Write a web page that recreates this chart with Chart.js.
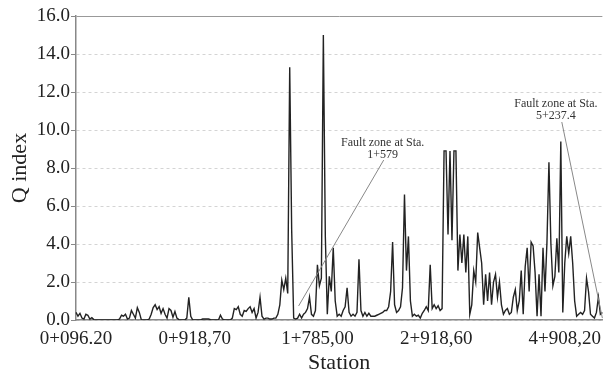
<!DOCTYPE html>
<html>
<head>
<meta charset="utf-8">
<script src="https://cdn.jsdelivr.net/npm/chart.js@4"></script>
<style>
  html, body { margin: 0; padding: 0; background: #fff; }
  #wrap { width: 609px; height: 376px; }
</style>
</head>
<body>
<div id="wrap"><canvas id="qchart"></canvas></div>
<script>
// Q index along the tunnel alignment, one reading per sample
const qIndex = [
  0.4, 0.2, 0.35, 0.1, 0.05, 0.3, 0.25, 0.05, 0.12, 0.02,
  0, 0, 0, 0, 0, 0, 0, 0, 0, 0,
  0, 0, 0.05, 0.25, 0.2, 0.3, 0.05, 0.1, 0.5, 0.3,
  0.1, 0.65, 0.4, 0.02, 0, 0, 0, 0.05, 0.3, 0.65,
  0.8, 0.55, 0.7, 0.35, 0.6, 0.3, 0.1, 0.6, 0.5, 0.15,
  0.45, 0.1, 0.02, 0, 0, 0, 0.1, 1.2, 0.2, 0,
  0, 0, 0, 0, 0.05, 0.05, 0.05, 0.05, 0.02, 0,
  0, 0, 0, 0.25, 0.05, 0, 0, 0, 0, 0.1,
  0.6, 0.55, 0.7, 0.3, 0.2, 0.5, 0.45, 0.6, 0.7, 0.4,
  0.6, 0.1, 0.4, 1.2, 0.2, 0.05, 0.1, 0.1, 0.05, 0.05,
  0.1, 0.1, 0.3, 0.8, 2.1, 1.6, 2.2, 1.4, 13.3, 4.7,
  0.1, 0.05, 0.1, 0.3, 0.1, 0.3, 0.4, 0.6, 1.2, 0.3,
  0.2, 0.5, 2.9, 1.8, 2.2, 15.0, 4.4, 0.3, 2.3, 1.5,
  3.8, 1.0, 0.2, 0.3, 0.2, 0.5, 0.7, 1.7, 0.4, 0.2,
  0.3, 0.2, 0.4, 3.2, 0.5, 0.2, 0.4, 0.2, 0.35, 0.2,
  0.2, 0.2, 0.25, 0.3, 0.35, 0.4, 0.5, 0.5, 0.7, 1.5,
  4.1, 0.8, 0.4, 0.5, 0.7, 1.7, 6.6, 2.6, 4.4, 1.0,
  0.2, 0.3, 0.2, 0.25, 0.1, 0.35, 0.5, 0.7, 0.5, 2.9,
  0.6, 0.8, 0.6, 0.75, 0.5, 0.6, 8.9, 8.9, 4.5, 8.9,
  4.2, 8.9, 8.9, 2.6, 4.5, 3.0, 4.5, 2.5, 4.4, 0.3,
  0.8, 2.6, 2.0, 4.6, 3.8, 3.0, 0.8, 2.4, 1.0, 2.5,
  0.8, 2.0, 2.4, 1.2, 2.0, 0.8, 0.3, 0.5, 0.6, 0.3,
  0.4, 1.2, 1.6, 0.5, 1.0, 2.6, 0.3, 2.8, 3.8, 1.5,
  4.1, 3.9, 2.5, 0.2, 2.4, 0.2, 3.8, 1.5, 4.1, 8.3,
  4.0, 1.8, 2.3, 4.3, 2.5, 9.4, 0.4, 3.0, 4.4, 3.5,
  4.4, 3.0, 1.0, 0.2, 0.3, 0.4, 0.3, 0.5, 2.2, 1.5,
  0.3, 0.2, 0.1, 0.4, 1.2, 0.3, 0.4
];

// station labels shown on the x axis, at sample index
const tickIndex = [0, 60, 122, 182, 247];
const tickText = ['0+096.20', '0+918,70', '1+785,00', '2+918,60', '4+908,20'];

// fault zone callouts: label lines, text anchor and leader line (index, value)
const noteLines = [['Fault zone at Sta.', '1+579'], ['Fault zone at Sta.', '5+237.4']];
const noteAt = [[155, 9.35], [242.5, 11.4]];
const noteFrom = [[112.5, 0.74], [266, 0.1]];
const noteTo = [[155.5, 8.42], [245.5, 10.42]];

const stations = qIndex.map(() => '');
tickIndex.forEach((idx, k) => { stations[idx] = tickText[k]; });

const serif = "'Liberation Serif', 'Times New Roman', serif";

const faultNotes = {
  id: 'faultNotes',
  afterDatasetsDraw(chart) {
    const ctx = chart.ctx;
    const xs = chart.scales.x, ys = chart.scales.y;
    ctx.save();
    ctx.strokeStyle = '#888';
    ctx.lineWidth = 1;
    noteFrom.forEach((p, k) => {
      ctx.beginPath();
      ctx.moveTo(xs.getPixelForValue(p[0]), ys.getPixelForValue(p[1]));
      ctx.lineTo(xs.getPixelForValue(noteTo[k][0]), ys.getPixelForValue(noteTo[k][1]));
      ctx.stroke();
    });
    ctx.fillStyle = '#333';
    ctx.font = '12px ' + serif;
    ctx.textAlign = 'center';
    ctx.textBaseline = 'middle';
    noteLines.forEach((lines, k) => {
      const x = xs.getPixelForValue(noteAt[k][0]);
      const y = ys.getPixelForValue(noteAt[k][1]);
      lines.forEach((t, j) => ctx.fillText(t, x, y + j * 12));
    });
    ctx.restore();
  }
};

new Chart(document.getElementById('qchart'), {
  type: 'line',
  data: {
    labels: stations,
    datasets: [{
      data: qIndex,
      borderColor: '#222',
      borderWidth: 1.4,
      pointRadius: 0,
      tension: 0,
      fill: false
    }]
  },
  options: {
    responsive: true,
    maintainAspectRatio: false,
    animation: false,
    layout: { padding: { top: 16, right: 0, left: 0, bottom: 0 } },
    plugins: { legend: { display: false }, tooltip: { enabled: false } },
    scales: {
      x: {
        offset: false,
        grid: { display: false, drawTicks: false },
        border: { color: '#888', width: 1.5 },
        ticks: {
          autoSkip: false,
          maxRotation: 0,
          minRotation: 0,
          padding: 8,
          color: '#222',
          font: { family: serif, size: 19 },
          callback: (v, i) => stations[i] || null
        },
        title: {
          display: true,
          text: 'Station',
          color: '#222',
          font: { family: serif, size: 22 },
          padding: { top: 0, bottom: 0 }
        },
        afterFit: (scale) => { scale.height = 56; }
      },
      y: {
        min: 0,
        max: 16,
        grid: {
          color: (c) => c.tick && c.tick.value === 16 ? '#999' : '#d4d4d4',
          tickColor: '#888',
          tickLength: 5,
          tickBorderDash: []
        },
        border: {
          color: '#888',
          width: 1.5,
          dash: (c) => c.tick && c.tick.value === 16 ? [] : [3, 3]
        },
        ticks: {
          stepSize: 2,
          padding: 1,
          color: '#222',
          font: { family: serif, size: 19 },
          callback: (v) => v.toFixed(1)
        },
        title: {
          display: true,
          text: 'Q index',
          color: '#222',
          font: { family: serif, size: 22 },
          padding: { top: 7, bottom: 0 }
        },
        afterFit: (scale) => { scale.width = 76; }
      }
    }
  },
  plugins: [faultNotes]
});
</script>
</body>
</html>
